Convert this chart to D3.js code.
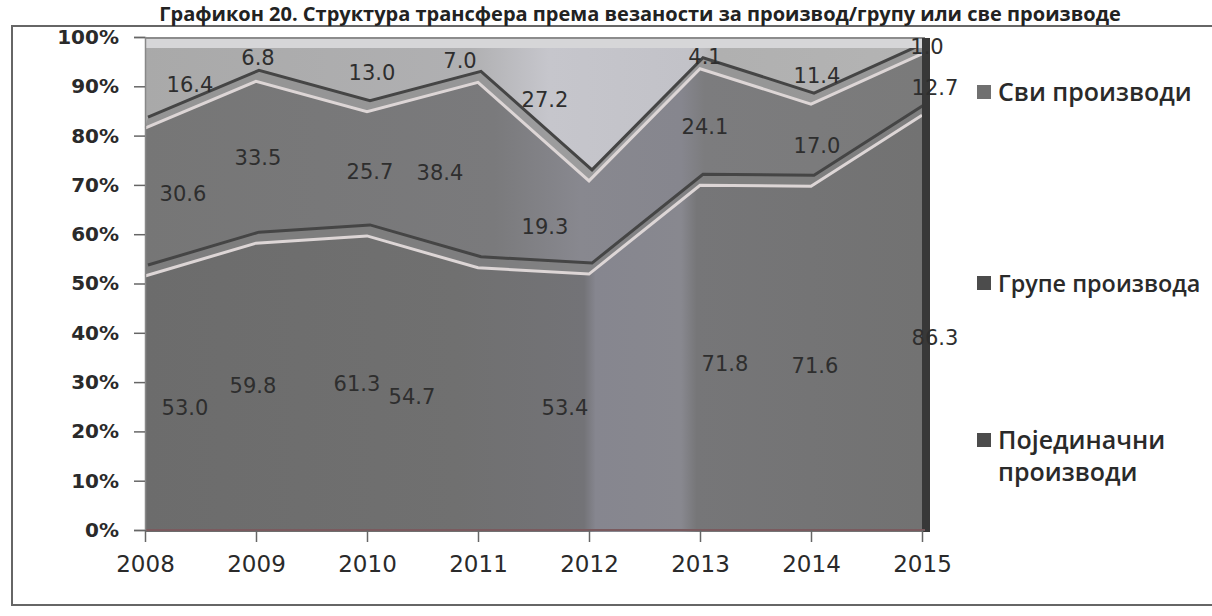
<!DOCTYPE html>
<html>
<head>
<meta charset="utf-8">
<script src="https://cdn.jsdelivr.net/npm/d3@7"></script>
<style>
  body { margin: 0; background: #fff; }
  svg { display: block; }
</style>
</head>
<body>
<div id="chart"></div>
<script>
// data
var years = [2008, 2009, 2010, 2011, 2012, 2013, 2014, 2015];
var singleProducts = [53.0, 59.8, 61.3, 54.7, 53.4, 71.8, 71.6, 86.3];
var productGroups = [30.6, 33.5, 25.7, 38.4, 19.3, 24.1, 17.0, 12.7];
var allProducts = [16.4, 6.8, 13.0, 7.0, 27.2, 4.1, 11.4, 1.0];
var yTicks = [0, 10, 20, 30, 40, 50, 60, 70, 80, 90, 100];
var seriesKeys = ["single", "groups", "all"];
var legendNames = ["Сви производи", "Групе производа", "Појединачни производи"];
var title = "Графикон 20. Структура трансфера према везаности за производ/групу или све производе";

// where excel pushed the value labels (px, relative to the category)
var labelNudge = {
  all:    {dx: [45, 2, 5, -18, -44, 5, 6, 5],     dy: [1, -2, -3, 0, -12, 3, 4, 1]},
  groups: {dx: [38, 2, 3, -38, -44, 5, 6, 13],    dy: [-6, -2, 1, 0, 1, 3, 4, 8]},
  single: {dx: [40, -3, -10, -66, -24, 25, 4, 13], dy: [2, -4, -2, -5, 3, 4, 5, 14]}
};

var svgWidth = 1212;
var svgHeight = 616;

var svg = d3.select("#chart")
  .append("svg")
  .attr("width", svgWidth)
  .attr("height", svgHeight);

var x = d3.scaleLinear().domain([2008, 2015]).range([145, 922]);
// axis scale and the (slightly lower) front face of the 3d slab
var y = d3.scaleLinear().domain([0, 100]).range([530, 37]);
var yFront = d3.scaleLinear().domain([0, 100]).range([532, 49]);
var depth = {dx: 3, dy: -11};

var rows = years.map(function(yr, i) {
  return {year: yr, single: singleProducts[i], groups: productGroups[i], all: allProducts[i]};
});
var stacked = d3.stack().keys(seriesKeys)(rows);

// horizontal gradients, mimicking the uneven scan
var defs = svg.append("defs");
function grad(id, stops) {
  var g = defs.append("linearGradient")
    .attr("id", id)
    .attr("gradientUnits", "userSpaceOnUse")
    .attr("x1", x(2008)).attr("x2", x(2015))
    .attr("y1", 0).attr("y2", 0);
  stops.forEach(function(s) {
    g.append("stop").attr("offset", s[0]).attr("stop-color", s[1]);
  });
}
grad("g-single", [[0, "#6c6c6c"], [0.4, "#707070"], [0.565, "#737377"], [0.58, "#86868f"], [0.69, "#88888f"], [0.71, "#767678"], [1, "#727272"]]);
grad("g-groups", [[0, "#767676"], [0.45, "#7a7a7c"], [0.56, "#88888f"], [0.69, "#86868e"], [0.72, "#7c7c7e"], [1, "#7a7a7a"]]);
grad("g-all", [[0, "#a9a9a9"], [0.42, "#b0b0b2"], [0.52, "#c6c6cc"], [0.7, "#c2c2c8"], [0.74, "#b0b0b0"], [1, "#b4b4b4"]]);

// chart frame
svg.append("rect")
  .attr("x", 12).attr("y", 26)
  .attr("width", 1206).attr("height", 579)
  .attr("fill", "none")
  .attr("stroke", "#666")
  .attr("stroke-width", 2);

// title, right at the top of the scan
svg.append("text")
  .attr("x", 640).attr("y", 21)
  .attr("text-anchor", "middle")
  .style("font-family", "'Open Sans', sans-serif")
  .style("font-weight", 700)
  .style("font-size", "20px")
  .attr("fill", "#222")
  .text(title);

var plot = svg.append("g");

// top layer reaches up to the back edge of 100%
plot.append("path")
  .attr("d", d3.area()
    .x(function(d) { return x(d.data.year); })
    .y0(function(d) { return yFront(d[0]); })
    .y1(function() { return yFront(100) + depth.dy; })(stacked[2]))
  .attr("fill", "url(#g-all)");

var area = d3.area()
  .x(function(d) { return x(d.data.year); })
  .y0(function(d) { return yFront(d[0]); })
  .y1(function(d) { return yFront(d[1]); });

var fills = {single: "url(#g-single)", groups: "url(#g-groups)"};

plot.selectAll(".layer")
  .data(stacked.slice(0, 2))
  .enter()
  .append("path")
  .attr("class", "layer")
  .attr("d", area)
  .attr("fill", function(d) { return fills[d.key]; });

// 3d bevels on each boundary
var front = d3.line()
  .x(function(d) { return x(d.data.year); })
  .y(function(d) { return yFront(d[1]); });
var back = d3.line()
  .x(function(d) { return x(d.data.year) + depth.dx; })
  .y(function(d) { return yFront(d[1]) + depth.dy; });

stacked.slice(0, 2).forEach(function(s) {
  var pts = s.map(function(d) { return [x(d.data.year), yFront(d[1])]; });
  var bpts = s.map(function(d) { return [x(d.data.year) + depth.dx, yFront(d[1]) + depth.dy]; }).reverse();
  plot.append("path")
    .attr("d", "M" + pts.concat(bpts).join("L") + "Z")
    .attr("fill", s.key === "single" ? "#808080" : "#8e8e8e")
    .attr("opacity", 0.75);
  plot.append("path")
    .attr("d", back(s))
    .attr("fill", "none")
    .attr("stroke", "#454545")
    .attr("stroke-width", 3);
  plot.append("path")
    .attr("d", front(s))
    .attr("fill", "none")
    .attr("stroke", "#ddd6d6")
    .attr("stroke-width", 3);
});

// top edge of the 100% slab
plot.append("rect")
  .attr("x", x(2008)).attr("y", yFront(100) + depth.dy)
  .attr("width", x(2015) - x(2008) + depth.dx).attr("height", -depth.dy - 1)
  .attr("fill", "#d6d6d8");
plot.append("line")
  .attr("x1", x(2008)).attr("x2", x(2015) + depth.dx)
  .attr("y1", yFront(100) + depth.dy).attr("y2", yFront(100) + depth.dy)
  .attr("stroke", "#8c8c8c").attr("stroke-width", 2);

// right side of the slab
plot.append("rect")
  .attr("x", x(2015)).attr("y", yFront(100) + depth.dy)
  .attr("width", depth.dx + 5).attr("height", yFront(0) - yFront(100) - depth.dy)
  .attr("fill", "#383838");

// floor line
plot.append("line")
  .attr("x1", x(2008)).attr("x2", x(2015) + depth.dx)
  .attr("y1", y(0)).attr("y2", y(0))
  .attr("stroke", "#7a5a5e").attr("stroke-width", 2);

// axes
var yAxis = d3.axisLeft(y)
  .tickValues(yTicks)
  .tickSize(11)
  .tickPadding(15)
  .tickFormat(function(d) { return d + "%"; });

var yAxisG = svg.append("g")
  .attr("transform", "translate(" + x(2008) + ",0)")
  .call(yAxis);
yAxisG.select(".domain").attr("stroke", "#888").attr("stroke-width", 1.5);
yAxisG.selectAll(".tick line").attr("stroke", "#666").attr("stroke-width", 1.5);
yAxisG.selectAll("text")
  .style("font-family", "'DejaVu Sans', sans-serif")
  .style("font-weight", 700)
  .style("font-size", "20px")
  .attr("fill", "#2a2a2a");

var xAxis = d3.axisBottom(x)
  .tickValues(years)
  .tickSize(12)
  .tickPadding(14)
  .tickFormat(d3.format("d"));

var xAxisG = svg.append("g")
  .attr("transform", "translate(0," + y(0) + ")")
  .call(xAxis);
xAxisG.select(".domain").remove();
xAxisG.selectAll(".tick line").attr("stroke", "#666").attr("stroke-width", 1.5);
xAxisG.selectAll("text")
  .style("font-family", "'DejaVu Sans', sans-serif")
  .style("font-size", "23px")
  .attr("fill", "#2a2a2a");

// value labels at the middle of each band
var labelG = svg.append("g")
  .style("font-family", "'DejaVu Sans', sans-serif")
  .style("font-size", "21px")
  .attr("fill", "#2e2e2e")
  .attr("text-anchor", "middle");

stacked.forEach(function(s) {
  var nudge = labelNudge[s.key];
  labelG.selectAll(".lbl-" + s.key)
    .data(s)
    .enter()
    .append("text")
    .attr("x", function(d, i) { return x(d.data.year) + nudge.dx[i]; })
    .attr("y", function(d, i) { return y((d[0] + d[1]) / 2) + 14 + nudge.dy[i]; })
    .text(function(d) { return d3.format(".1f")(d[1] - d[0]); });
});

// legend
var legendY = [92, 283, 440];
var legendX = 977;
var legendSize = 25;
var legend = svg.append("g")
  .style("font-family", "'Open Sans', sans-serif")
  .style("font-weight", 600)
  .attr("fill", "#2a2a2a");

legendNames.forEach(function(name, i) {
  var g = legend.append("g").attr("transform", "translate(" + legendX + "," + legendY[i] + ")");
  g.append("rect")
    .attr("x", 0).attr("y", -7)
    .attr("width", 14).attr("height", 14)
    .attr("fill", i === 0 ? "#707070" : "#4c4c4c");
  var words = name === "Појединачни производи" ? ["Појединачни", "производи"] : [name];
  var t = g.append("text").attr("x", 21).attr("y", 9).style("font-size", legendSize + "px");
  words.forEach(function(w, j) {
    t.append("tspan").attr("x", 21).attr("dy", j === 0 ? 0 : 32).text(w);
  });
  // shrink a long entry so it stays inside the page
  var room = svgWidth - 12 - legendX - 21;
  var len = t.node().getComputedTextLength();
  if (words.length === 1 && len > room) {
    t.style("font-size", (legendSize * room / len).toFixed(1) + "px");
  }
});
</script>
</body>
</html>
